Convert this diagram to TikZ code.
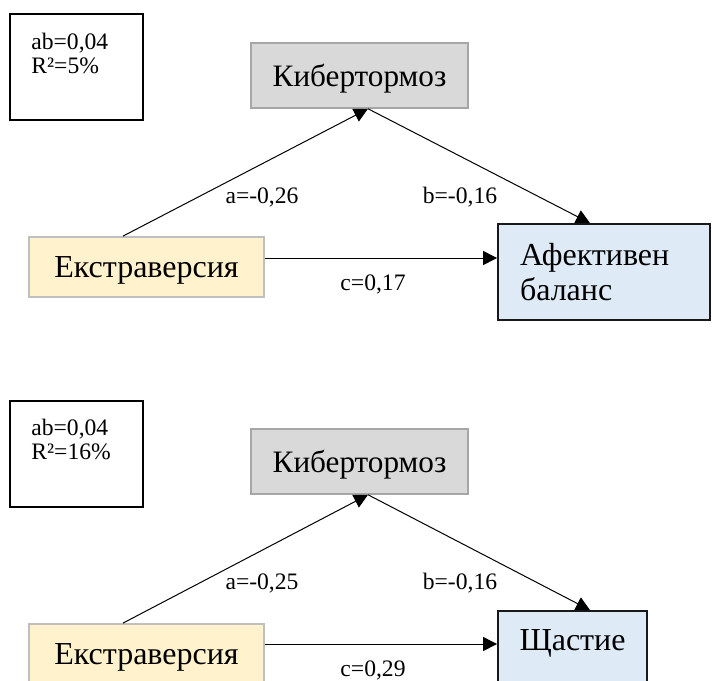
\documentclass[tikz,border=0pt]{standalone}
\usepackage{fontspec}
\setmainfont{Liberation Serif}
\usetikzlibrary{arrows.meta,calc}
\definecolor{kibfill}{HTML}{D9D9D9}
\definecolor{kibline}{HTML}{A6A6A6}
\definecolor{extfill}{HTML}{FFF2CC}
\definecolor{extline}{HTML}{BFBFBF}
\definecolor{outfill}{HTML}{DEEBF7}

\begin{document}
\begin{tikzpicture}[>={Triangle[length=7pt,width=7pt]},x=0.5pt,y=-0.5pt,
 lab/.style={font=\fontsize{11.8}{12}\selectfont,inner sep=0pt},
 statbox/.style={draw,line width=1pt,minimum width=66.5pt,minimum height=53pt,inner sep=0pt},
 stattext/.style={font=\fontsize{11.8}{12}\selectfont,align=left,anchor=north west,inner sep=0pt},
 med/.style={draw=kibline,fill=kibfill,line width=0.75pt,minimum width=108.5pt,minimum height=32.5pt,text depth=0pt,font=\fontsize{15.6}{17.5}\selectfont},
 pred/.style={draw=extline,fill=extfill,line width=0.9pt,minimum width=117.5pt,minimum height=30pt,text depth=0pt,font=\fontsize{16}{17.5}\selectfont},
 outc/.style={draw=black!90,fill=outfill,line width=0.9pt,font=\fontsize{16}{17.5}\selectfont},
 conn/.style={->,line width=0.5pt}]
\useasboundingbox (0,0) rectangle (712,680);
\clip (0,0) rectangle (712,680);
\node[statbox] (stats1) at (76.500,67.000) {};
\node[stattext] (stats1txt) at (31.000,33.000) {ab=0,04\\R²=5\%};
\node[med] (kib1) at (359.500,75.500) {Кибертормоз};
\node[pred] (ext1) at (146.500,267.000) {Екстраверсия};
\node[outc,align=left,text width=84pt,inner xsep=11pt,minimum height=48pt] (afe1) at (604.000,272.000) {Афективен\\баланс};
\node[lab] (a1) at (262.000,197.000) {a=-0,26};
\node[lab] (b1) at (460.000,197.000) {b=-0,16};
\node[lab] (c1) at (373.000,284.000) {c=0,17};
\draw[conn] ([xshift=-11.75pt]ext1.north) -- ([xshift=4.25pt]kib1.south);
\draw[conn] ([xshift=4.25pt]kib1.south) -- ([xshift=-7pt]afe1.north);
\draw[conn] ([yshift=4.5pt]ext1.east) coordinate (c1s) -- (c1s -| afe1.west);
\node[statbox] (stats2) at (76.500,453.500) {};
\node[stattext] (stats2txt) at (31.000,419.000) {ab=0,04\\R²=16\%};
\node[med] (kib2) at (359.500,461.500) {Кибертормоз};
\node[pred] (ext2) at (146.500,654.000) {Екстраверсия};
\node[outc,minimum width=74.5pt,minimum height=45pt] (shch) at (572.500,656.000) {};
\node[font=\fontsize{16}{17.5}\selectfont,inner sep=0pt] (shchtxt) at (572.500,643.000) {Щастие};
\node[lab] (a2) at (262.000,583.000) {a=-0,25};
\node[lab] (b2) at (460.000,583.000) {b=-0,16};
\node[lab] (c2) at (373.000,670.000) {c=0,29};
\draw[conn] ([xshift=-11.75pt]ext2.north) -- ([xshift=4.25pt]kib2.south);
\draw[conn] ([xshift=4.25pt]kib2.south) -- ([xshift=8.75pt]shch.north);
\draw[conn] ([yshift=5pt]ext2.east) coordinate (c2s) -- (c2s -| shch.west);
\end{tikzpicture}
\end{document}
